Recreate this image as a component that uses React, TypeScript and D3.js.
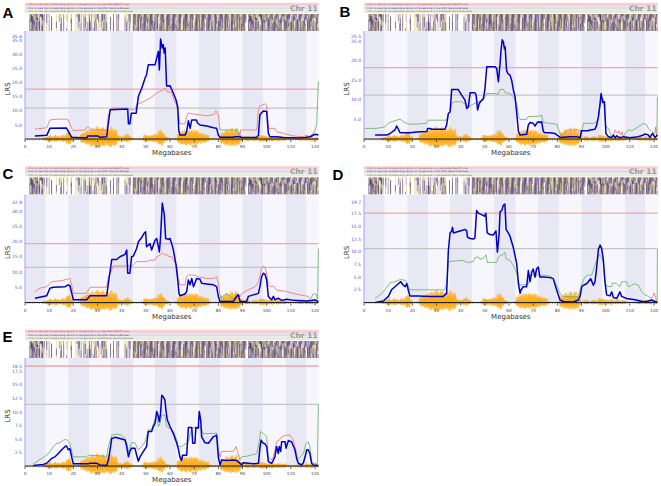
import React from 'react';
import * as d3 from 'd3';

type P = [number, number] | null;

const CHR_LEN = 121.5;
const xTicks = [0, 10, 20, 30, 40, 50, 60, 70, 80, 90, 100, 110, 120];
const bandEdges = [0, 8.6, 17.9, 26.6, 35.6, 44.8, 53.8, 62.8, 72, 80.7, 90, 98.6, 108, 116.5, 121.5];
const headerTexts = [
  'Click to view the corresponding section of the genome in an expanded WebQTL map',
  'Click to view the corresponding section of the genome in the UCSC Genome Browser',
  'Click to view the corresponding section of the genome in the Ensembl Genome Browser',
];
// SNP density (orange band) per Mb, 0..121
const snpDensity = [0, 0, 0, 0, 0, 0, 0, 1, 1.5, 2, 3, 2, 3, 2.5, 2, 3, 3, 5, 6, 2, 0.5, 0.5, 1, 4, 5, 6, 7, 8, 8, 9, 9, 8, 9, 7, 8, 9, 8, 7, 3, 2, 2, 3, 4, 2, 1, 0.5, 0.5, 0.5, 1, 3, 3, 2.5, 3, 3.5, 4, 6, 7, 4, 2, 1, 0.5, 0.5, 1, 4, 6, 6, 7, 6, 7, 6, 7, 6, 5, 4, 4, 3, 1, 0.5, 0.5, 0.5, 1, 5, 6, 7, 7, 8, 7, 8, 6, 3, 1, 2, 2, 1, 2, 2, 1.5, 3, 3, 2.5, 2, 2, 2.5, 1.5, 2, 2, 1.5, 2, 1, 0.5, 0.5, 0.5, 1, 1.5, 2, 1, 2, 1.5, 2, 1, 1.5, 0.5];
const snpTexture = [1, 0.55, 0.85, 0.35, 0.95, 0.7, 0.45, 0.8, 0.6, 0.9, 0.3];
// haplotype strip segments [startMb, endMb, density]
const hapSegments = [[2, 7.6, 0.95], [8, 9, 0.25], [10, 11, 0.25], [12, 13, 0.25], [14, 18, 0.35], [19, 20, 0.25], [21, 27, 0.4], [27, 34, 0.6], [35, 37, 0.25], [38, 40, 0.35], [41, 44, 0.5], [44.8, 91.5, 0.97], [92.5, 121.4, 0.97]];
const hapTexture = [0.1, 0.7, 0.3, 0.9, 0.5, 0.2, 0.8, 0.4, 0.6, 0.05, 0.97, 0.35, 0.65, 0.15, 0.75, 0.45, 0.85];
const hapColors = ['#5b3a7a', '#e6d36b', '#2a2a3a', '#7a5a9a', '#b8acd8', '#3d2f5c', '#ffffff', '#8a5d8a', '#c9ab6a', '#4a3a6a', '#f3e9a8', '#1e1e2a'];

// ---------- Panel A ----------
const aBlue: P[] = [[4.1,1.1],[9,1.3],[10.3,3.8],[17.2,3.9],[19.3,0.6],[25.5,0.4],[26,1.1],[30,1.1],[31,0.6],[33.8,0.8],[35.2,10.4],[42.5,10.7],[42.8,5.4],[43.4,5.4],[44,9.2],[46,9.2],[46.9,15.1],[48.3,18.1],[49.7,21.7],[50.3,22.9],[51,26.4],[53.8,26.4],[54.5,28.8],[55.2,31.2],[55.6,24.6],[56.1,35.6],[56.8,32.4],[57.2,33.6],[57.6,30.6],[58,32.4],[58.6,18.9],[60,19],[61.4,16.3],[62.5,13.9],[63.2,11.5],[63.6,3.2],[64.1,1.4],[66.2,1.4],[66.9,2.6],[67.6,6.5],[68.3,3.8],[69,6.8],[71,6.8],[71.3,5.8],[72.4,5],[75.2,4.6],[78,4],[79.3,3.8],[80,1.4],[80.7,0.6],[86.2,0.6],[86.5,0.8],[89,0.8],[89.7,0.5],[95.9,0.5],[96.6,1.4],[97.2,8.6],[98.6,10],[100,9.8],[100.7,2],[101.4,0.8],[104,0.8],[107,0.5],[113.8,0.4],[115.9,0.5],[118,0.8],[120,1.7],[121.4,1.4]];
const aRed: P[] = [[4.1,3.5],[9,4],[10.3,6.8],[13,7],[16.6,7.1],[17.9,6.8],[19.3,3.8],[20,3],[24.8,3.2],[25.8,4.4],[26.6,4.0],[27.3,3.2],[33.8,3.2],[34.5,8.6],[35.9,11],[42,11],[44.1,10.4],[45.5,10.4],[46.2,12.1],[49,13.3],[51.7,14.5],[54.5,16.3],[57.2,17.5],[58,18.1],[58.6,16.9],[60.7,16.6],[61.4,14.5],[62.5,12.5],[63.4,9.2],[64.1,5.4],[66.2,5.4],[66.9,8],[67.6,9.2],[69.7,8.9],[72.4,8.6],[75.2,8.3],[78,8.6],[79,10],[80,8.6],[80.7,3.2],null,[89,1.4],[89.2,3.2],[95.9,3.2],[96.6,10.4],[97.2,11.8],[99.3,12.5],[100,12.1],[100.7,3.8],[103.4,3.8],[104.1,2.6],[107,2],[111,1.1],[115.2,0.8],[116.6,1.4],[118,0.8]];
const aGreen: P[] = [[80.7,3.2],[81.1,3.2],[87.9,3.2],[88.5,1.4],[89,1.4],null,[118,0.8],[118.6,1.4],[120,3],[120.7,5.4],[121.4,20.5]];

// ---------- Panel B ----------
const bBlue: P[] = [[4.6,1.0],[9.4,1.0],[10.8,1.4],[12.8,2.3],[13.5,3.3],[14.2,2.5],[14.9,1.6],[19,1.6],[21.8,1.8],[26,1.9],[26.3,2.7],[27.3,2.7],[28,2.5],[33.5,2.5],[34.2,3.6],[34.9,6.5],[35.6,6.9],[36.3,12.6],[39,12.6],[40.4,11.2],[41.8,9.9],[42.5,7.8],[43.2,8.2],[43.9,11.8],[45.9,11.8],[46.4,11.2],[47,7.4],[47.7,9.1],[48.7,9.9],[49.4,10.3],[50,12.5],[50.8,18.4],[54.2,18.4],[54.9,18],[55.6,14.6],[56.3,19.2],[56.7,22.6],[57.2,25.3],[57.7,24.7],[58.1,23],[58.4,23.5],[59,17.5],[59.5,16.7],[60.4,16.3],[61.1,15],[61.8,12.5],[62.5,10.8],[63.2,6.5],[63.9,1.9],[64.6,1.0],[67.3,1.2],[68,3.6],[68.7,4.2],[70,4],[70.8,3.3],[71.4,4],[72.1,4.4],[72.8,4.2],[73.5,4.4],[74.2,1.9],[74.9,1.6],[77,1.6],[79,1.4],[80.4,0.8],[81.1,0.4],[85.2,0.6],[88,0.6],[89.4,0.3],[90,2.1],[92.8,2.1],[93.5,2.3],[95.6,2.5],[96.3,3.6],[97,5.7],[97.7,9.1],[98.1,11.6],[98.8,9.3],[99.5,9.5],[100.1,1.4],[101.1,0.6],[102.5,0.4],[103.2,1.0],[103.9,0.3],[104.6,0.8],[106,0.3],[107.3,0.6],[110,0.3],[113.5,0.6],[115.6,1.0],[116.3,1.3],[117.7,1.0],[118.3,0.4],[119.4,1.4],[120.4,0.4],[121.4,1.0]];
const bGreen: P[] = [[0.4,2.7],[5.2,2.7],[8.7,3.1],[10,4],[11.4,4.4],[13.5,4.8],[14.9,5.1],[16.3,4.4],[18.3,3.8],[21.8,3.8],[25.9,4],[26.6,4.8],[34.2,4.8],[34.9,6.5],[35.6,6.9],[36.3,9.1],[37.7,9.5],[40.4,9.5],[42.5,8.6],[43.9,8.4],[45.2,8.9],[47.3,9.5],[49.4,9.9],[50,10.8],[50.8,11.6],[54.2,11.6],[55.6,11.4],[56.3,12.6],[57.7,12.7],[58.4,11.8],[60.4,11.6],[61.8,10.8],[63.2,9.1],[63.9,5.7],[64.6,5],[67.3,5],[68,5.7],[72.1,5.8],[73.5,6.1],[74.2,4.2],[77,4],[79.7,3.8],[81.1,1.4],[81.8,0.6],null,[90,0.6],[90.1,1.9],[90.8,4],[94.9,4],[96.3,4.4],[97,5.3],[98.1,10.8],[99,10.3],[100.1,3.1],[101.1,2.7],[102.5,0.6],null,[107.3,0.6],[108,1.4],[109.4,2.3],[110.8,2.1],[113.5,3.1],[115.6,4],[117,3.6],[117.7,2.7],[119,1.9],[120.4,1.4],null,[121.2,0.5],[121.4,10.8]];
const bRed: P[] = [[81.8,0.6],[82.5,1.0],[83.9,2.3],[89.4,2.3],[89.7,0.6],[90,0.6],null,[102.5,0.6],[103.2,1.0],[103.9,2.3],[104.9,1.4],[105.4,2.1],[106.2,1.0],[106.8,1.8],[107.3,0.6],null,[120.4,1.4],[120.7,3.1],[121.2,0.5]];

// ---------- Panel C ----------
const cBlue: P[] = [[4.1,1.4],[9,2.2],[10.3,4.7],[11.7,5],[16.6,5.2],[17.9,5.8],[18.6,5.5],[20,0.9],[25.5,0.9],[26.9,2.2],[33.8,2.2],[34.5,6.3],[35.9,14.1],[37.9,14.1],[39.3,15],[41.4,15.8],[42.1,17.2],[42.5,9.6],[43.4,9.6],[44.1,15],[44.8,15.2],[46.2,17.7],[46.9,19.9],[48.3,21.3],[49.2,22.6],[49.9,23.2],[50.3,18.3],[51,18.8],[51.7,19.3],[52.4,17.2],[53.1,18.8],[53.8,20.4],[54.5,21],[55.2,18.3],[55.6,16.6],[56.1,21.5],[56.8,32.6],[57.2,30.8],[57.6,29.1],[58.2,21],[59.3,20.7],[60,21],[60.7,19.3],[61.4,17.2],[62.5,12.3],[63.2,7.4],[63.7,3],[64.1,2.2],[66.2,2.8],[66.9,3.6],[67.6,7.4],[68.3,5.8],[69,7.9],[69.7,5.2],[70.3,6.3],[71,7.9],[72.4,7.6],[73.1,6.3],[75.2,6.1],[78,5.8],[79.3,5.2],[80,2],[80.7,0.3],[86.2,0.3],[87.6,2],[88.3,2.5],[89,0.3],[91.7,0.3],[92.4,2],[94.5,2.5],[96.6,3],[97.2,5.2],[97.9,8.5],[98.6,9.6],[99.3,9.3],[100,7.4],[100.7,2],[102,0.9],[102.8,2],[103.4,0.9],[104.8,1.4],[106.2,0.7],[108.3,1.1],[111,0.7],[116.6,0.5],[119.3,0.7],[120,0.9],[121.4,0.3]];
const cRed: P[] = [[4.1,3.6],[6.2,4.7],[9,5.2],[11,6.8],[15.2,7.2],[17.2,7.6],[18.6,7.9],[19.3,5.8],[20,3],[25.5,3],[26.9,5],[33.8,5],[34.5,8.5],[35.2,9.6],[36.6,12],[42.1,12],[42.8,12.3],[43.4,11.7],[44.8,12.3],[46.2,13.4],[50.3,13.4],[51.7,13.9],[53.8,13.9],[54.5,15],[55.9,15.5],[56.8,16.3],[57.9,15.5],[58.6,15.8],[59.3,15.2],[60.7,15],[61.4,13.9],[62.8,12.3],[63.4,7.9],[64.1,5.8],[66.2,5.8],[66.9,8.5],[67.6,9],[69.7,9],[71,8.7],[72.4,8.3],[75.2,7.9],[78,7.9],[79.3,8.5],[80,6.3],[80.7,2.5],null,[86.9,1.9],[88.3,2.8],[89,1.9],[89.7,3],[92.4,4.1],[95.2,5.2],[96.6,6.8],[97.9,11.2],[98.6,12],[99.3,11.5],[100,9.6],[100.7,5.8],[101.4,5.2],[102.8,5.4],[104.1,4.1],[108.3,3.6],[111,3],[113.8,2.5],[115.9,2.2],[117.2,2],[118,1.1]];
const cGreen: P[] = [[80.7,2.5],[81,1.4],[82,2.2],[83.4,2.8],[84.8,2.2],[86.2,0.9],[86.9,1.9],null,[118,1.1],[118.3,1.4],[119.3,2.8],[120.4,2.8],[121.1,1.1],[121.4,17.7]];

// ---------- Panel D ----------
const dBlue: P[] = [[4.6,0],[8,0.3],[10.1,1.2],[11.4,2.5],[12.8,3.1],[14.2,3.7],[15.2,4.1],[16.3,3.4],[17,3.1],[17.7,3.7],[18.3,2.5],[19,1.3],[22.5,1.3],[27.3,1.2],[32.8,1.2],[34.2,1.8],[34.9,10.2],[35.6,13.7],[36.3,14.1],[36.6,14.8],[37,13.7],[38.3,13.9],[40.4,14.2],[41.8,14.4],[42.5,14.1],[42.8,12.9],[43.9,12.6],[45.2,12.5],[45.9,12.7],[46.6,18.1],[47.3,17.6],[48.7,17.3],[50,17],[50.4,17.6],[51,13.7],[52.1,13.4],[53.5,13.3],[54.6,14.1],[55.2,9.9],[55.9,13.4],[56.3,17.9],[57,18.1],[57.7,19.2],[58.3,19.4],[58.8,14.4],[59.7,13.7],[60.4,13.1],[61.8,10.8],[63.2,7.6],[63.9,3.7],[64.6,1.8],[65,2.5],[65.9,3.1],[67.3,3.1],[68,6.3],[68.7,4.1],[69.4,6],[70,6.6],[70.8,5],[71.4,6.6],[72.1,7],[72.8,5],[74.2,5],[77,4.9],[78.3,4.7],[79.7,2.5],[81.1,0.5],[82.5,0.2],[86.6,0.1],[88.7,0.5],[89.4,1.2],[90.1,3.1],[90.8,3.4],[92.1,3.7],[92.8,4.1],[93.8,4.7],[94.9,3.4],[95.6,4.1],[96.3,7],[97,10.5],[97.7,11.3],[98.3,10.7],[99,8.6],[99.7,4.1],[100.4,1.5],[101.8,1.3],[102.5,2.1],[103.2,1],[104.6,0.8],[105.9,2.1],[106.6,1.2],[108.7,0.8],[112.8,0.5],[114.9,0.2],[117,0.2],[119,0.5],[120.4,0.2],[121.4,0]];
const dGreen: P[] = [[4.6,0.8],[6.6,1.5],[8.7,2.5],[10.1,3.4],[10.8,3.9],[12.8,4.1],[14.9,4.5],[17,4.4],[17.9,3.7],[19,2.5],[27.3,2.5],[33.5,2.5],[34.2,3.7],[34.9,7.9],[35.6,8.1],[41.1,8.3],[42.5,7.9],[45.2,8.0],[45.9,8.8],[47.3,9],[48,8.5],[49.4,8.7],[50.5,9.4],[51,7.9],[54.9,7.9],[55.6,8.9],[56.3,9.2],[57.7,9.5],[58.3,9.9],[58.8,8.6],[60.4,8.3],[61.8,7.3],[63.2,5.7],[63.9,4.1],[64.6,3.4],[68,3.6],[68.7,5.4],[74.2,5.4],[77,5.2],[78.3,4.7],[79.7,3.4],[81.1,1.8],[82.5,1.2],[86.6,1.1],[88.7,1.2],[90.1,3.7],[91.4,5],[92.8,5.4],[94.2,5.4],[96.3,8.3],[97.4,9.5],[98.3,8.9],[99,7.9],[99.7,4.1],[100.4,3.2],[102.5,3.1],[102.9,3.9],[104.6,3.7],[105.9,3.1],[106.6,4.1],[108.7,4.1],[109.4,3.1],[110.8,3.4],[112.1,3.7],[113.5,3.4],[114.9,2.1],[116.3,1.5],[117.7,1.2],[119,0.8],null,[121,0.2],[121.3,0.2],[121.4,10.5]];
const dRed: P[] = [[119,0.8],[119.4,1.2],[120,1.9],[120.8,0.8],[121,0.2]];

// ---------- Panel E ----------
const eBlue: P[] = [[3.4,0.1],[7.6,0.3],[9,0.5],[11,1.4],[12.4,1.7],[13.8,2.3],[15.2,3],[16.6,3.6],[17.2,3.7],[17.9,3],[18.6,3.2],[19.3,1.7],[20,0.4],[26.2,0.4],[26.9,0.5],[29.7,0.5],[31,0.2],[33.8,0.1],[34.5,1.1],[35.2,3],[35.9,5.1],[37.2,5.3],[39.3,5.1],[41.4,4.8],[42.1,3.6],[42.8,1.7],[43.4,2.7],[44.1,3.3],[45.5,3.3],[46.2,2],[46.9,0.9],[47.6,1.7],[49,2.7],[50.3,3.6],[51,6.4],[52.4,6.4],[53.1,7.3],[53.8,7.9],[54.5,10.1],[55.2,9.1],[55.6,8.2],[56.1,9.8],[56.6,13.1],[57.2,12.8],[57.9,12.2],[58.3,10.4],[58.9,8.5],[60,7.3],[61.4,6],[62.8,4.2],[63.4,3.3],[64.1,1.7],[64.8,1],[65.2,2],[66.9,2],[67.6,7.1],[69,7.1],[69.4,4.2],[70.3,4.2],[70.7,7.1],[71.7,7],[72.1,10.1],[72.7,8.5],[73.1,5.4],[74.5,4.3],[75.9,4.2],[77.9,5.4],[79.3,5.7],[80,1.7],[80.7,0.2],[81.4,1.1],[83.4,1],[86.2,1.1],[87.6,1],[89,0.5],[89.7,0.2],[90.3,0.6],[94.5,0.4],[96.6,0.5],[97.2,3.3],[97.7,4.8],[98.6,4.2],[99.3,4.1],[100,3.6],[100.7,0.8],[102,0.5],[102.8,1.1],[103.4,1.7],[104.1,3.6],[104.8,2.3],[105.2,3.6],[105.8,2.7],[106.2,4.5],[107.6,4.5],[108,3.3],[109,4.7],[110.3,4.5],[111.7,3],[112.4,1.4],[113.1,0.5],[114.5,0.2],[115.2,0.6],[115.9,1.7],[116.6,3],[117.2,3],[117.9,2.3],[118.6,0.5],[119.3,0.2],[121.4,0.1]];
const eGreen: P[] = [[3.4,0.4],[6.2,1.2],[9,2],[10.3,2.7],[11.7,3.6],[13.1,4.2],[14.5,4.3],[15.9,4.8],[17.2,4.9],[18.6,4.2],[19.3,2.7],[20,1.7],[25.5,1.7],[26.2,2],[33.8,1.8],[34.5,3.6],[35.9,5.7],[37.9,5.9],[40,5.7],[41.4,5.1],[42.1,4.2],[42.8,2.7],[43.4,3.3],[44.1,4.3],[45.5,4.3],[46.9,3],[48.3,3.6],[49.7,4.5],[50.3,5.4],[51,6.7],[52.4,6.7],[53.1,7.8],[54.5,9.4],[55.2,7.3],[55.9,7.9],[56.6,9.4],[57.9,9.4],[58.6,7.3],[60,7],[61.4,6.4],[62.8,4.8],[63.4,3.6],[64.8,3.6],[67.6,4.5],[69,7],[72.4,7.3],[73.8,6],[77.9,6],[79.3,6.1],[80,3],[80.7,1.7],null,[89,1.1],[89.7,1.7],[91.7,1.8],[95.9,2.3],[96.8,4.2],[97.5,6.4],[98.6,6],[100,5.4],[100.7,1.7],[102,1.1],null,[112.8,1.1],[113.8,1.7],[115.2,2.3],[116.3,4.2],[117.2,4.5],[117.9,3.6],[118.6,0.8],[120,0.4],[121,0.5],[121.4,11.4]];
const eRed: P[] = [[80.7,1.7],[81,2.3],[81.4,2.7],[86.2,2.7],[87.3,3.6],[87.9,2.7],[89,1.1],null,[102,1.1],[102.8,1.7],[103.4,3],[104.1,4.5],[105.2,4.8],[106.2,5.4],[108.3,5.7],[109.7,5.7],[111,4.8],[112.4,2.3],[112.8,1.1]];

const panelLabels = ['A', 'B', 'C', 'D', 'E'];
const panelMax = [35.6, 25.5, 32.8, 19.7, 18.5];
const panelStep = [5, 5, 5, 2.5, 2.5];
const panelSig = [17.75, 18.2, 19.3, 17.6, 18.5];
const panelSug = [11.0, 11.2, 11.5, 10.6, 11.4];

const panels = [
  { ox: 0, oy: 0, lx: 2.5, ly: 18, blue: aBlue, red: aRed, green: aGreen },
  { ox: 339, oy: 0, lx: 339.5, ly: 17, blue: bBlue, red: bRed, green: bGreen },
  { ox: 0, oy: 163.5, lx: 2.5, ly: 178.5, blue: cBlue, red: cRed, green: cGreen },
  { ox: 339, oy: 163.5, lx: 332.5, ly: 179.5, blue: dBlue, red: dRed, green: dGreen },
  { ox: 0, oy: 327, lx: 2.5, ly: 342, blue: eBlue, red: eRed, green: eGreen },
];

const PL = 25;
const PR = 25 + CHR_LEN * (290 / 120);
const AXIS_Y = 139;
const TOP_Y = 39;
const SANS = 'DejaVu Sans, Verdana, sans-serif';

function Panel({ idx }: { idx: number }) {
  const cfg = panels[idx];
  const max = panelMax[idx];
  const step = panelStep[idx];
  const x = d3.scaleLinear().domain([0, CHR_LEN]).range([PL, PR]);
  const y = d3.scaleLinear().domain([0, max]).range([AXIS_Y, TOP_Y]);
  const line = d3.line<P>().defined((d) => d != null).x((d) => x((d as [number, number])[0])).y((d) => y((d as [number, number])[1]));
  const yTicks = d3.range(step, max - 0.01, step);
  const lastTickY = y(yTicks[yTicks.length - 1]);
  const maxLabelY = Math.min(y(max), lastTickY - 4.6);

  const stripes = bandEdges.slice(0, -1).map((s, i) => (
    <rect key={'s' + i} x={x(s)} y={31} width={x(bandEdges[i + 1]) - x(s)} height={AXIS_Y - 31}
      fill={i % 2 === 0 ? '#e8e8f4' : '#f6f6fc'} />
  ));

  const hap: JSX.Element[] = [];
  let k = 0;
  const nT = hapTexture.length;
  const nC = hapColors.length;
  hapSegments.forEach(([s, e, dens], si) => {
    for (let m = s; m < e; m += 0.2) {
      k++;
      const t = hapTexture[(k * 5) % nT];
      if (t >= dens) continue;
      const s1 = 14 + 17 * hapTexture[(k * 3 + 1) % nT] * 0.5;
      const s2 = s1 + (31 - s1) * hapTexture[(k * 7 + 2) % nT];
      const cols = [hapColors[(k * 7 + si) % nC], hapColors[(k * 5 + 3) % nC], hapColors[(k * 11 + 6) % nC]];
      const ys = [14, s1, s2, 31];
      for (let j = 0; j < 3; j++) {
        hap.push(<line key={`h${k}_${j}`} x1={x(m)} x2={x(m)} y1={ys[j]} y2={ys[j + 1]} stroke={cols[j]} strokeWidth={0.65} />);
      }
    }
  });

  const snp: JSX.Element[] = [];
  const nS = Math.floor(CHR_LEN / 0.18);
  for (let i = 0; i < nS; i++) {
    const m = i * 0.18;
    const amp = snpDensity[Math.min(snpDensity.length - 1, Math.floor(m))];
    if (amp <= 0) continue;
    const mult = snpTexture[i % snpTexture.length];
    const up = amp * 1.4 * mult;
    const dn = amp * 0.95 * snpTexture[(i + 3) % snpTexture.length];
    snp.push(<line key={'o' + i} x1={x(m)} x2={x(m)} y1={AXIS_Y - up} y2={AXIS_Y + dn} stroke="#ffa500" strokeWidth={0.75} />);
  }

  const minor = d3.range(0, 122, 1);

  return (
    <g transform={`translate(${cfg.ox},${cfg.oy})`}>
      {/* header bands */}
      <rect x={PL} y={2.8} width={PR - PL} height={3.2} fill="#f7cfcf" />
      <rect x={PL} y={6.4} width={PR - PL} height={3.2} fill="#dcdcf0" />
      <rect x={PL} y={9.9} width={PR - PL} height={3} fill="#ececd2" />
      {headerTexts.map((t, i) => (
        <text key={'ht' + i} x={PL + 3} y={5.3 + i * 3.5} fontSize={2.4} fontFamily={SANS}
          fill={['#b04040', '#404080', '#707040'][i]}>{t}</text>
      ))}
      <text x={PR - 1} y={10.8} textAnchor="end" fontSize={7.5} fontWeight="bold" fontFamily={SANS} fill="#9a9a9a">Chr 11</text>
      {hap}
      {stripes}
      {/* threshold lines */}
      <line x1={PL} x2={PR} y1={y(panelSig[idx])} y2={y(panelSig[idx])} stroke="#f2a6a6" strokeWidth={1.3} />
      <line x1={PL} x2={PR} y1={y(panelSug[idx])} y2={y(panelSug[idx])} stroke="#c4c4c4" strokeWidth={1.3} />
      {snp}
      <path d={line(cfg.green) || ''} fill="none" stroke="#5fb05f" strokeWidth={0.8} />
      <path d={line(cfg.red) || ''} fill="none" stroke="#ee6e6e" strokeWidth={0.8} />
      <path d={line(cfg.blue) || ''} fill="none" stroke="#0000c8" strokeWidth={1.5} strokeLinejoin="round" />
      {/* y axis */}
      <line x1={PL} x2={PL} y1={31} y2={AXIS_Y} stroke="#a0a0f0" strokeWidth={1} />
      {yTicks.map((v) => (
        <text key={'yt' + v} x={22} y={y(v)} dy="0.35em" textAnchor="end" fontSize={4.5} fontFamily={SANS} fill="#5252d8">{v.toFixed(1)}</text>
      ))}
      <text x={22} y={maxLabelY} dy="0.35em" textAnchor="end" fontSize={4.5} fontFamily={SANS} fill="#5252d8">{max.toFixed(1)}</text>
      <text transform={`translate(10,${(AXIS_Y + TOP_Y) / 2}) rotate(-90)`} textAnchor="middle" fontSize={7} fontFamily={SANS} fill="#333">LRS</text>
      {/* x axis */}
      <line x1={PL} x2={PR} y1={AXIS_Y} y2={AXIS_Y} stroke="#222" strokeWidth={1.2} />
      {minor.map((m) => (
        <line key={'mn' + m} x1={x(m)} x2={x(m)} y1={AXIS_Y} y2={AXIS_Y + (m % 10 === 0 ? 3 : 1.3)} stroke="#333" strokeWidth={m % 10 === 0 ? 0.8 : 0.5} />
      ))}
      {xTicks.map((v) => (
        <text key={'xt' + v} x={x(v)} y={AXIS_Y + 9} textAnchor="middle" fontSize={4.2} fontFamily={SANS} fill="#444">{v}</text>
      ))}
      <text x={(PL + PR) / 2} y={AXIS_Y + 16} textAnchor="middle" fontSize={7} fontFamily={SANS} fill="#333">Megabases</text>
    </g>
  );
}

export default function App() {
  return (
    <svg width={661} height={486} style={{ position: 'absolute', left: 0, top: 0, background: '#fff' }}>
      <rect width={661} height={486} fill="#fff" />
      {panels.map((p, i) => <Panel key={i} idx={i} />)}
      {panels.map((p, i) => (
        <text key={'lab' + i} x={p.lx} y={p.ly} fontSize={15} fontWeight="bold" fontFamily="Liberation Sans, Arial, sans-serif" fill="#000">{panelLabels[i]}</text>
      ))}
    </svg>
  );
}
